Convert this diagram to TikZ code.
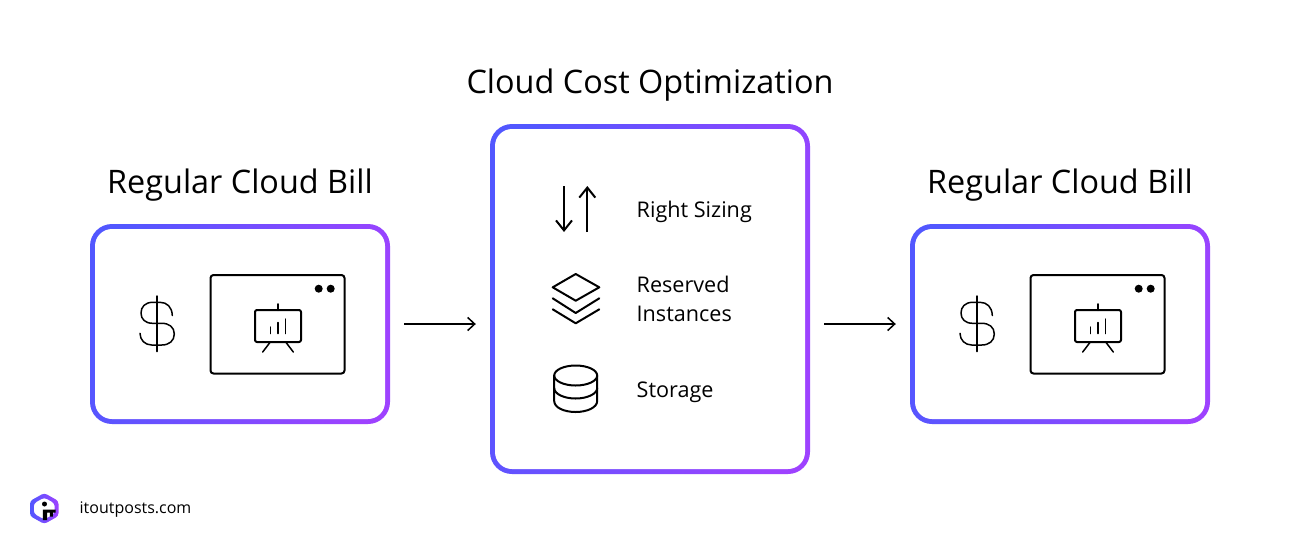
\documentclass[tikz,border=0pt]{standalone}
\usepackage{fontspec}
\setmainfont{Open Sans}
\usepackage{xcolor}
\usetikzlibrary{positioning,calc,arrows.meta}
\definecolor{cardblue}{HTML}{5257FF}
\definecolor{cardpurple}{HTML}{9E42FF}
\tikzset{
    cardouter/.style={shape=rectangle, inner sep=0pt, rounded corners=22pt, left color=cardblue, right color=cardpurple, shading angle=75},
    cardinner/.style={shape=rectangle, inner sep=0pt, rounded corners=17pt, fill=white},
    headline/.style={inner sep=0pt, font=\fontsize{32.4}{40}\selectfont},
    itemlabel/.style={inner sep=0pt, anchor=west, align=left, font=\fontsize{21.6}{29}\selectfont},
    flowarrow/.style={line width=1.5pt, -{Straight Barb[length=7pt,width=13pt,line width=1.5pt]}},
    iconline/.style={line width=2pt, line cap=round, line join=round},
    thinicon/.style={line width=1.5pt, line cap=round, line join=round},
    itemarrow/.style={line width=2pt, -{Straight Barb[length=10pt,width=16pt,line width=2pt]}},
}
\begin{document}
\begin{tikzpicture}[x=1pt, y=-1pt]
    \useasboundingbox[fill=white] (0,0) rectangle (1300,550);

    % Bill cards, left and right
    \foreach \bx/\bname in {0/billA, 820/billB} {
        \begin{scope}[xshift=\bx pt]
            \node[cardouter, minimum width=300pt, minimum height=200pt] (\bname) at (240,324) {};
            \node[cardinner, minimum width=290pt, minimum height=190pt] (\bname in) at (240,324) {};
            \node[headline] (\bname title) at (240,185) {Regular Cloud Bill};
            % dollar sign
            \draw[thinicon] (157,296) -- (157,351.5);
            \draw[thinicon] (172.3,315.5) .. controls (172,307) and (167,302.3) .. (160,302.3) -- (152.7,302.3)
                .. controls (145,302.3) and (141,307) .. (141,313) .. controls (141,319) and (145,323.3) .. (152.7,323.3)
                -- (161.7,323.3) .. controls (169,323.3) and (174.3,327) .. (174.3,334)
                .. controls (174.3,341) and (169,345) .. (161.7,345) -- (151.7,345)
                .. controls (145,345) and (140,340) .. (140,333.3);
            % window with the chart board
            \draw[iconline, rounded corners=3pt] (210.5,275) rectangle (344.5,373.5);
            \fill (318.7,288.7) circle (4pt) (330.7,288.7) circle (4pt);
            \draw[iconline, rounded corners=2pt] (255,310) rectangle (301,342);
            \draw[iconline] (278,304) -- (278,310);
            \draw[thinicon] (270.3,342) -- (262.7,352) (285.7,342) -- (293.3,352);
            \draw[thinicon] (270.3,327) -- (270.3,333.5) (278,322.5) -- (278,333.5) (285.7,319) -- (285.7,333.5);
        \end{scope}
    }

    % Optimization card
    \node[cardouter, minimum width=320pt, minimum height=350pt] (opt) at (650,299) {};
    \node[cardinner, minimum width=310pt, minimum height=340pt] (optin) at (650,299) {};
    \node[headline] (opttitle) at (650,85) {Cloud Cost Optimization};

    % Arrows between the cards
    \draw[flowarrow, shorten <=14pt, shorten >=14pt] (billA.east) -- (billA.east -| opt.west);
    \coordinate (optout) at (billB.west -| opt.east);
    \draw[flowarrow, shorten <=14pt, shorten >=14pt] (optout) -- (billB.west);

    % Right sizing
    \coordinate (downtop) at (564,186);
    \coordinate (downend) at (564,232);
    \coordinate (uptop) at (587.3,186);
    \coordinate (upend) at (587.3,232);
    \draw[itemarrow] (downtop) -- (downend);
    \draw[itemarrow] (upend) -- (uptop);
    \node[itemlabel] (sizing) at (636.5,211.5) {Right Sizing};

    % Reserved instances
    \draw[iconline] (552.7,287.3) -- (575.7,274) -- (599.3,287.3) -- (575.7,300.7) -- cycle;
    \draw[iconline] (552.7,298.3) -- (575.7,313) -- (599.3,298.3);
    \draw[iconline] (552.7,309.3) -- (575.7,323.3) -- (599.3,309.3);
    \node[itemlabel] (reserved) at (636.5,299) {Reserved\\Instances};

    % Storage
    \draw[iconline] (575.7,375.5) ellipse (21.5pt and 10pt);
    \draw[iconline] (554.2,375.5) -- (554.2,401) .. controls (554.2,407.5) and (564,412) .. (575.7,412)
        .. controls (587,412) and (597.2,407.5) .. (597.2,401) -- (597.2,375.5);
    \draw[iconline] (554.2,388) .. controls (554.2,394) and (564,398.5) .. (575.7,398.5)
        .. controls (587,398.5) and (597.2,394) .. (597.2,388);
    \node[itemlabel] (storage) at (636.5,392) {Storage};

    % Logo
    \shade[left color=cardblue, right color=cardpurple, even odd rule, rounded corners=3pt]
        (44.3,493) -- (58.5,501) -- (58.5,516) -- (44.3,524) -- (30,516) -- (30,501) -- cycle
        (44.3,497.5) -- (54.7,503.3) -- (54.7,513.7) -- (44.3,519.5) -- (33.8,513.7) -- (33.8,503.3) -- cycle;
    \fill (44.5,504) circle (2.5pt);
    \fill (42.8,509.5) rectangle (47,520) (47,509.5) rectangle (55.5,512.5) (49.8,512.5) rectangle (52.8,516.5);
    \node[inner sep=0pt, anchor=west, font=\fontsize{16}{19}\selectfont] (site) at (79.5,509.5) {itoutposts.com};
\end{tikzpicture}
\end{document}
